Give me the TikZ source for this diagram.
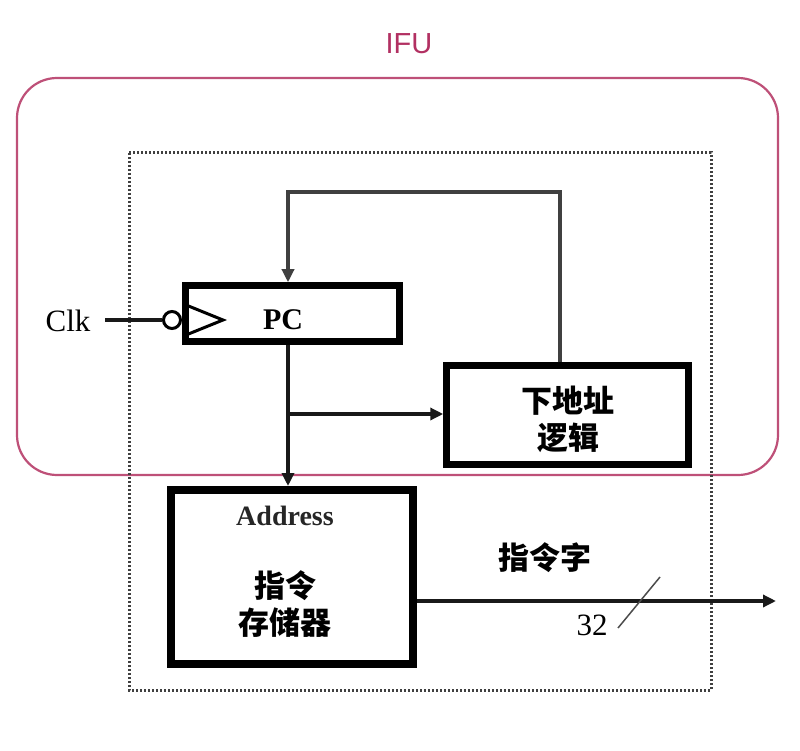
\documentclass[tikz,border=0pt]{standalone}
\usepackage{fontspec}
\setmainfont{Liberation Serif}
\newfontfamily\ifufont{Liberation Sans}
\newfontfamily\cjk{Noto Sans CJK SC}
\usetikzlibrary{arrows.meta}
\definecolor{ifu}{RGB}{178,48,98}
\definecolor{ifuline}{RGB}{190,80,120}
\begin{document}
\begin{tikzpicture}[x=1pt,y=-1pt,
  thickbox/.style={draw=black,line width=6.5pt,minimum width=#1,inner sep=0pt},
  wire/.style={line width=3.5pt,draw=black!90},
  tip/.style={-{Triangle[length=13pt,width=12pt]}},
  cjklbl/.style={font=\cjk\bfseries\fontsize{31}{35}\selectfont,inner sep=0pt},
  latin/.style={font=\fontsize{31}{34}\selectfont,inner sep=0pt}]
\useasboundingbox[fill=white] (0,0) rectangle (800,751);
% IFU rounded region
\draw[ifuline,line width=2.2pt,rounded corners=40pt] (17,78) rectangle (778,475);
\node[font=\ifufont\fontsize{29}{32}\selectfont,text=ifu,inner sep=0pt] (ifulbl) at (409,44) {IFU};
% dotted box
\draw[black!75,line width=3pt,dash pattern=on 2pt off 2pt] (129,153) rectangle (711,690);
% PC
\node[thickbox=214pt,minimum height=56pt] (pc) at (292.5,313.5) {};
\node[latin,font=\bfseries\fontsize{30}{34}\selectfont] (pclbl) at (283,320) {PC};
% next address logic
\node[thickbox=242pt,minimum height=99pt] (na) at (567.5,415) {};
\node[cjklbl,align=center] (nalbl) at (568,419) {下地址\\[2pt]逻辑};
% instruction memory
\node[thickbox=242pt,minimum height=174pt,line width=8pt] (mem) at (292,577) {};
\node[latin,font=\bfseries\fontsize{28}{32}\selectfont,text=black!85] (addr) at (285,516) {Address};
\node[cjklbl,align=center] (memlbl) at (285,604) {指令\\[2pt]存储器};
% clock
\node[latin] (clk) at (68,321) {Clk};
\node[circle,draw=black,line width=3pt,minimum size=17pt,inner sep=0pt] (bub) at (172,320) {};
\draw[line width=3pt,line join=miter] (186,305) -- (223,320) -- (186,335);
\draw[wire] (105,320) -- (bub.west);
% feedback path
\coordinate (fbtr) at (560,192);
\coordinate (fbtl) at (288,192);
\draw[wire,draw=black!75,tip] (na.north -| fbtr) -- (fbtr) -- (fbtl) -- (fbtl |- pc.north);
% PC to memory
\draw[wire,tip] (pc.south -| fbtl) -- (fbtl |- mem.north);
\coordinate (br) at (288,414);
\draw[wire,tip] (br) -- (br -| na.west);
% output
\coordinate (out) at (776,601);
\draw[wire,tip] (mem.east |- out) -- (out);
\coordinate (sl1) at (618,628);
\coordinate (sl2) at (660,577);
\draw[line width=1.5pt,black!70] (sl1) -- (sl2);
\node[latin] (w32) at (592,625) {32};
\node[cjklbl] (instr) at (545,558) {指令字};
\end{tikzpicture}
\end{document}
